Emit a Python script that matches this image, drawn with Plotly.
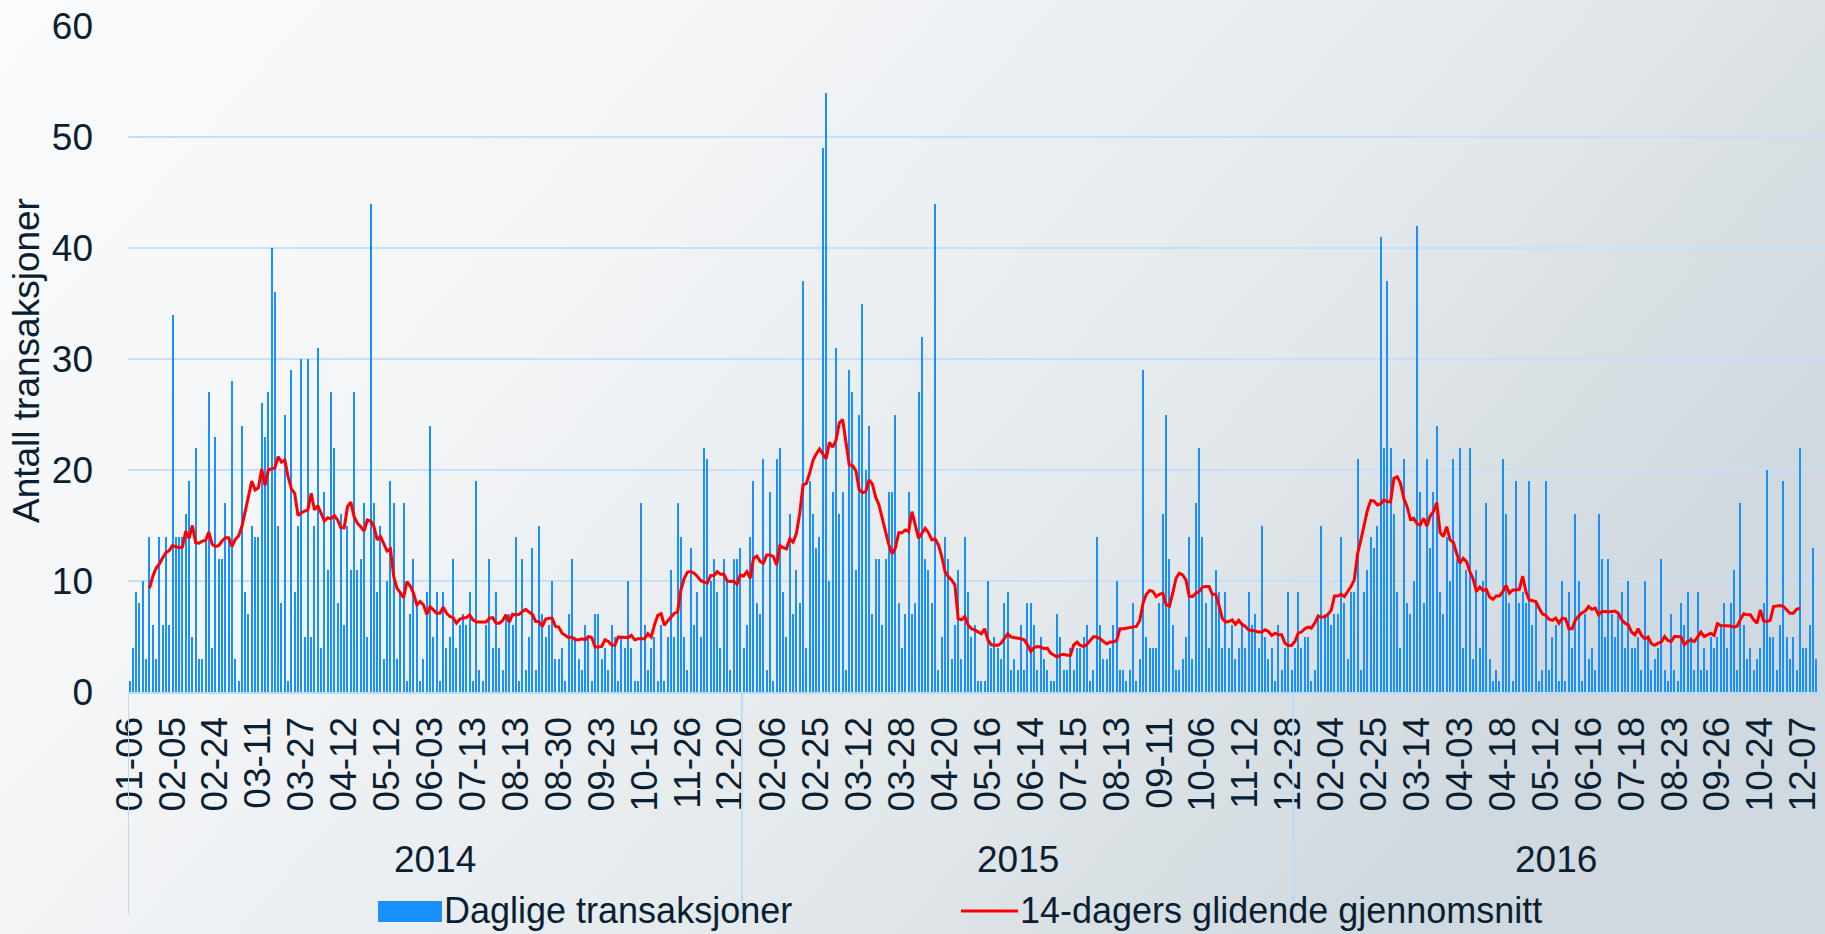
import base64
import plotly.graph_objects as go

# ---------------- data ----------------
daily_transactions = [
    # 0-63
    1, 4, 9, 8, 10, 3, 14, 6, 3, 14, 6, 14, 6, 34, 14, 14, 14, 16, 19, 5,
    22, 3, 3, 14, 27, 4, 23, 12, 12, 17, 14, 28, 3, 1, 24, 9, 7, 15, 14, 14,
    26, 23, 27, 40, 36, 15, 8, 25, 1, 29, 9, 15, 30, 5, 30, 5, 15, 31, 4, 18,
    11, 27, 22, 8,
    # 64-127
    16, 6, 15, 11, 27, 11, 12, 17, 5, 44, 17, 9, 15, 3, 10, 19, 17, 3, 9, 17,
    1, 7, 12, 8, 1, 3, 9, 24, 5, 9, 1, 9, 4, 5, 12, 4, 6, 7, 6, 9,
    1, 19, 2, 1, 6, 12, 4, 9, 4, 2, 7, 7, 6, 14, 1, 12, 2, 5, 13, 2,
    15, 7, 5, 6,
    # 128-191
    10, 3, 3, 4, 1, 7, 12, 5, 3, 2, 6, 5, 1, 7, 7, 3, 4, 2, 6, 5,
    1, 5, 4, 10, 4, 1, 1, 17, 6, 2, 4, 5, 1, 6, 1, 5, 11, 5, 17, 14,
    5, 2, 13, 6, 9, 5, 22, 21, 10, 12, 9, 4, 12, 10, 2, 12, 12, 13, 4, 6,
    14, 19, 8, 7,
    # 192-255
    21, 2, 18, 1, 21, 22, 9, 5, 16, 7, 11, 8, 37, 4, 19, 16, 13, 14, 49, 54,
    10, 18, 31, 16, 18, 2, 29, 27, 11, 25, 35, 20, 24, 7, 12, 12, 6, 12, 18, 18,
    25, 8, 4, 7, 18, 7, 8, 27, 32, 12, 11, 8, 44, 2, 5, 14, 12, 3, 6, 11,
    3, 14, 9, 5,
    # 256-319
    6, 1, 1, 1, 10, 4, 5, 4, 3, 8, 9, 2, 3, 2, 6, 2, 8, 8, 6, 2,
    5, 3, 2, 1, 1, 7, 5, 2, 2, 4, 2, 4, 4, 5, 6, 1, 2, 14, 6, 3,
    3, 4, 6, 10, 2, 2, 1, 2, 8, 1, 3, 29, 5, 4, 4, 4, 8, 16, 25, 12,
    6, 2, 2, 3,
    # 320-383
    5, 14, 3, 17, 22, 14, 8, 4, 9, 11, 9, 4, 9, 4, 6, 3, 4, 6, 4, 9,
    6, 7, 4, 15, 5, 3, 4, 1, 6, 2, 4, 9, 2, 4, 9, 4, 5, 5, 1, 2,
    7, 15, 7, 7, 6, 7, 7, 14, 8, 3, 9, 9, 21, 2, 9, 11, 14, 13, 15, 41,
    22, 37, 22, 16,
    # 384-447
    9, 4, 21, 8, 7, 10, 42, 18, 8, 21, 13, 18, 24, 9, 7, 14, 10, 21, 12, 22,
    4, 11, 22, 3, 11, 4, 10, 17, 3, 1, 2, 1, 21, 16, 8, 1, 19, 8, 9, 8,
    19, 6, 8, 1, 2, 19, 2, 5, 6, 1, 10, 1, 9, 4, 16, 10, 1, 7, 3, 4,
    2, 16, 12, 5,
    # 448-511
    12, 7, 5, 7, 9, 4, 10, 4, 4, 5, 2, 10, 5, 2, 3, 4, 12, 2, 1, 7,
    2, 1, 8, 6, 9, 5, 2, 9, 2, 4, 2, 5, 4, 5, 6, 8, 4, 8, 11, 2,
    17, 6, 3, 4, 2, 3, 4, 8, 20, 5, 5, 2, 6, 19, 5, 3, 5, 2, 22, 4,
    4, 6, 13, 3,
]

# 14-day moving average, first value belongs to day index 6, last to day index 506
ma_first_index = 6
moving_average_14d = [
    # 6-63
    9.35, 10.4, 11.15, 11.54, 12.1, 12.56, 12.74, 13.2, 13.1, 13.0,
    13.07, 14.5, 13.85, 15.0, 13.45, 13.4, 13.6, 13.66, 14.4, 13.3,
    13.1, 13.2, 13.6, 13.9, 13.9, 13.1, 13.75, 14.05, 14.9, 16.2,
    17.7, 19.0, 18.2, 18.4, 20.1, 18.6, 20.0, 20.1, 20.2, 21.2,
    20.7, 20.9, 19.4, 18.3, 17.9, 15.9, 16.15, 16.3, 16.4, 17.9,
    16.4, 16.8, 16.1, 15.4, 15.7, 15.6, 15.9, 15.5,
    # 64-127
    14.8, 14.8, 16.7, 17.1, 15.8, 15.2, 14.9, 14.5, 15.5, 15.4,
    14.9, 13.7, 14.0, 13.4, 12.7, 12.9, 10.4, 9.35, 8.9, 8.5,
    9.95, 9.55, 8.9, 7.85, 8.15, 7.85, 7.0, 7.7, 7.4, 7.1,
    7.1, 7.65, 7.1, 6.8, 6.7, 6.2, 6.55, 6.7, 6.7, 6.95,
    6.5, 6.3, 6.3, 6.3, 6.3, 6.65, 6.7, 6.2, 6.2, 6.45,
    6.95, 6.3, 7.0, 6.95, 7.0, 7.25, 7.45, 7.2, 7.0, 6.35,
    6.35, 5.9, 6.55, 6.65,
    # 128-191
    6.65, 5.9, 5.85, 5.3, 5.1, 4.9, 4.95, 4.7, 4.7, 4.8,
    4.7, 5.0, 4.9, 4.05, 4.05, 4.1, 4.7, 4.55, 4.25, 4.2,
    4.95, 4.95, 4.9, 4.9, 5.1, 4.7, 4.8, 4.8, 4.8, 5.25,
    4.95, 6.05, 6.9, 7.05, 6.0, 6.4, 6.75, 7.1, 7.2, 9.2,
    10.25, 10.8, 10.85, 10.7, 10.4, 10.05, 9.9, 9.8, 10.5, 10.5,
    10.85, 10.6, 10.6, 10.0, 9.95, 10.0, 9.7, 10.55, 10.45, 10.85,
    10.25, 12.05, 12.25, 11.75,
    # 192-255
    11.6, 12.35, 12.35, 12.2, 11.45, 13.2, 13.0, 12.9, 13.8, 13.5,
    14.3, 16.1, 18.65, 18.8, 19.7, 20.85, 21.45, 21.9, 21.45, 21.0,
    22.5, 22.05, 22.7, 24.25, 24.55, 22.7, 20.45, 20.4, 19.95, 18.25,
    17.95, 18.05, 19.1, 18.75, 17.55, 16.85, 15.55, 14.3, 13.25, 12.45,
    13.0, 14.35, 14.35, 14.6, 14.45, 16.25, 15.05, 13.85, 14.3, 14.75,
    14.35, 13.7, 13.8, 13.25, 12.25, 10.85, 10.4, 10.1, 9.65, 6.6,
    6.5, 6.8, 6.05, 5.7,
    # 256-319
    5.6, 5.45, 5.25, 5.7, 4.7, 4.25, 4.2, 4.2, 4.4, 4.85,
    5.25, 4.95, 4.9, 4.9, 4.8, 4.7, 4.25, 3.65, 4.0, 4.1,
    4.05, 3.9, 3.95, 3.5, 3.3, 3.15, 3.35, 3.4, 3.3, 3.3,
    4.25, 4.5, 4.2, 4.1, 4.3, 4.65, 5.0, 4.95, 4.8, 4.55,
    4.35, 4.5, 4.5, 4.65, 5.7, 5.7, 5.75, 5.75, 5.8, 5.9,
    6.45, 8.0, 8.8, 9.15, 9.05, 8.6, 8.8, 8.9, 7.85, 7.75,
    8.9, 10.25, 10.7, 10.55,
    # 320-383
    10.1, 8.6, 8.6, 8.9, 9.05, 9.45, 9.5, 9.5, 8.8, 8.8,
    7.8, 6.65, 6.3, 6.35, 6.5, 6.1, 6.45, 6.1, 5.9, 5.6,
    5.55, 5.45, 5.4, 5.4, 5.6, 5.45, 5.1, 5.3, 5.15, 5.15,
    4.4, 4.2, 4.2, 4.55, 5.3, 5.4, 5.7, 5.85, 5.75, 6.2,
    6.8, 6.75, 6.75, 7.0, 7.35, 8.65, 8.65, 8.8, 8.6, 9.05,
    9.5, 10.1, 12.45, 13.7, 15.2, 16.4, 17.25, 17.2, 16.85, 16.95,
    17.3, 17.15, 17.15, 19.25,
    # 384-447
    19.4, 18.8, 17.45, 16.7, 15.55, 15.65, 15.15, 15.05, 15.65, 14.95,
    15.85, 16.25, 17.05, 14.35, 14.0, 14.9, 13.7, 13.5, 12.5, 11.6,
    12.05, 11.75, 10.85, 10.2, 9.05, 9.45, 9.15, 9.25, 8.55, 8.35,
    8.65, 8.65, 9.05, 9.6, 8.9, 9.2, 9.2, 9.25, 10.45, 9.05,
    8.3, 8.25, 8.15, 7.55, 7.05, 6.9, 6.55, 6.45, 6.65, 6.2,
    6.65, 6.6, 5.7, 5.7, 6.5, 6.85, 7.15, 7.3, 7.7, 7.45,
    7.55, 6.95, 7.25, 7.25,
    # 448-506
    7.2, 7.25, 7.3, 7.1, 6.5, 6.2, 6.05, 5.4, 5.15, 5.7,
    5.1, 4.8, 4.95, 4.35, 4.2, 4.4, 4.5, 5.0, 4.65, 4.55,
    5.0, 5.0, 4.95, 4.25, 4.55, 4.7, 4.55, 4.95, 5.4, 5.0,
    5.15, 5.3, 5.1, 6.15, 6.0, 6.0, 6.0, 5.95, 5.85, 5.95,
    6.55, 7.05, 6.95, 6.95, 6.5, 6.2, 7.4, 6.4, 6.35, 6.45,
    7.7, 7.75, 7.8, 7.7, 7.4, 7.1, 7.1, 7.45, 7.55,
]

# tick labels: one every 13 trading days
tick_step = 13
tick_labels = [
    "01-06", "02-05", "02-24", "03-11", "03-27", "04-12", "05-12", "06-03",
    "07-13", "08-13", "08-30", "09-23", "10-15", "11-26", "12-20",
    "02-06", "02-25", "03-12", "03-28", "04-20", "05-16", "06-14", "07-15",
    "08-13", "09-11", "10-06", "11-12", "12-28",
    "02-04", "02-25", "03-14", "04-03", "04-18", "05-12", "06-16", "07-18",
    "08-23", "09-26", "10-24", "12-07",
]
years = ["2014", "2015", "2016"]
year_first_day = [0, 186, 353]   # index of the first trading day in each year

series_bar_name = "Daglige transaksjoner"
series_line_name = "14-dagers glidende gjennomsnitt"
y_title = "Antall transaksjoner"

# ---------------- layout constants ----------------
W, H = 1825, 934
ML, MR, MT, MB = 128, 0, 26, 242
PW, PH = W - ML - MR, H - MT - MB
FONT = "Liberation Sans, Arial, sans-serif"
FS = 37
TXT = "#0b1f33"
BAR_C = "#1890ff"
GRID_C = "#c5e0f8"


def px_x(px):
    return (px - ML) / PW


def px_y(py):
    return (H - MB - py) / PH


n_days = len(daily_transactions)
day_idx = list(range(n_days))
ma_idx = list(range(ma_first_index, ma_first_index + len(moving_average_14d)))
tick_vals = [i * tick_step for i in range(len(tick_labels))]

fig = go.Figure()
fig.add_trace(go.Bar(
    x=day_idx, y=daily_transactions, name=series_bar_name,
    width=0.34, marker=dict(color=BAR_C, line=dict(width=0)),
    showlegend=False,
))
fig.add_trace(go.Scatter(
    x=ma_idx, y=moving_average_14d, name=series_line_name, mode="lines",
    line=dict(color="#ff0000", width=3), showlegend=False,
))

# background gradient
svg = (
    f"<svg xmlns='http://www.w3.org/2000/svg' width='{W}' height='{H}'>"
    "<defs><linearGradient id='g' x1='0' y1='0' x2='1' y2='0.45'>"
    "<stop offset='0' stop-color='#fafbfc'/>"
    "<stop offset='0.35' stop-color='#f3f5f7'/>"
    "<stop offset='0.7' stop-color='#e4e9ec'/>"
    "<stop offset='1' stop-color='#d0d9df'/>"
    "</linearGradient></defs>"
    f"<rect width='{W}' height='{H}' fill='url(#g)'/></svg>"
)
src = "data:image/svg+xml;base64," + base64.b64encode(svg.encode()).decode()

shapes = []
# year separators below the axis
sep_positions = [s - 0.5 for s in year_first_day]
for xs in sep_positions:
    shapes.append(dict(type="line", xref="x", yref="paper", x0=xs, x1=xs,
                       y0=0, y1=px_y(914), line=dict(color="#bcdcf6", width=2)))
# legend (manual, to match the wide swatches)
shapes.append(dict(type="rect", xref="paper", yref="paper",
                   x0=px_x(378), x1=px_x(442), y0=px_y(901), y1=px_y(922),
                   fillcolor=BAR_C, line=dict(width=0)))
shapes.append(dict(type="line", xref="paper", yref="paper",
                   x0=px_x(961), x1=px_x(1018), y0=px_y(911), y1=px_y(911),
                   line=dict(color="#ff0000", width=3)))

annotations = []
year_bounds = year_first_day + [n_days]
for k, yr in enumerate(years):
    cx = (year_bounds[k] + year_bounds[k + 1] - 1) / 2
    annotations.append(dict(text=yr, x=cx, xref="x", y=px_y(859), yref="paper",
                            showarrow=False, xanchor="center", yanchor="middle",
                            font=dict(size=FS, color=TXT, family=FONT)))
annotations.append(dict(text=series_bar_name, x=px_x(443), y=px_y(910),
                        xref="paper", yref="paper", showarrow=False,
                        xanchor="left", yanchor="middle", borderpad=0,
                        font=dict(size=36, color=TXT, family=FONT)))
annotations.append(dict(text=series_line_name, x=px_x(1019), y=px_y(910),
                        xref="paper", yref="paper", showarrow=False,
                        xanchor="left", yanchor="middle", borderpad=0,
                        font=dict(size=36, color=TXT, family=FONT)))
annotations.append(dict(text=y_title, x=px_x(26), y=px_y(361),
                        xref="paper", yref="paper", showarrow=False,
                        textangle=-90, xanchor="center", yanchor="middle",
                        font=dict(size=FS, color=TXT, family=FONT)))

fig.update_layout(
    width=W, height=H,
    margin=dict(l=ML, r=MR, t=MT, b=MB, pad=0, autoexpand=False),
    paper_bgcolor="rgba(0,0,0,0)", plot_bgcolor="rgba(0,0,0,0)",
    bargap=0, showlegend=False,
    font=dict(family=FONT, color=TXT, size=FS),
    images=[dict(source=src, xref="paper", yref="paper",
                 x=px_x(0), y=px_y(0), sizex=W / PW, sizey=H / PH,
                 xanchor="left", yanchor="top", sizing="stretch",
                 layer="below")],
    shapes=shapes, annotations=annotations,
    xaxis=dict(range=[-0.5, n_days + 1.6], tickmode="array",
               tickvals=tick_vals, ticktext=tick_labels, tickangle=-90,
               showgrid=False, zeroline=False, showline=True,
               linecolor="#bcdcf6", linewidth=2, ticks="",
               ticklabelstandoff=8, automargin=False,
               ticklabeloverflow="allow",
               tickfont=dict(size=FS, color=TXT, family=FONT)),
    yaxis=dict(range=[0, 60], dtick=10, showgrid=True, gridcolor=GRID_C,
               gridwidth=2, zeroline=False, showline=False, ticks="",
               ticklabelstandoff=34, automargin=False,
               tickfont=dict(size=FS, color=TXT, family=FONT)),
)

# remove the browser's default 8px page margin so the figure fills the window
fig.write_html(
    "out.html",
    config={"displayModeBar": False},
    post_script="document.body.style.margin='0';"
                "document.body.style.overflow='hidden';",
)
